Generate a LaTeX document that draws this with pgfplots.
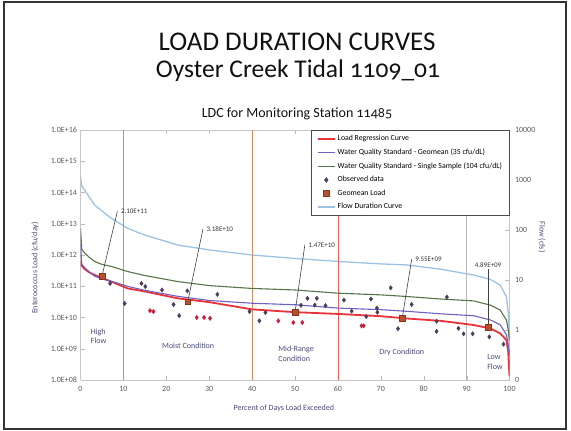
\documentclass[border=0pt]{standalone}
\usepackage{fontspec}
\setmainfont{Carlito}
\newfontfamily\titlefont[Numbers=OldStyle]{Carlito}
\usepackage{pgfplots}
\pgfplotsset{compat=1.18}
\definecolor{titlecol}{HTML}{111111}
\definecolor{axlab}{HTML}{4A4A7A}
\definecolor{ticklab}{HTML}{595959}
\definecolor{flowblue}{HTML}{9CC2E5}
\definecolor{ssgreen}{HTML}{557548}
\definecolor{gmpurple}{HTML}{7060C0}
\definecolor{regred}{HTML}{E8333A}
\definecolor{obs}{HTML}{4D3D5E}
\definecolor{redpts}{HTML}{C81E3C}
\definecolor{gmload}{HTML}{B8502E}
\definecolor{vbrown}{HTML}{D08A66}
\definecolor{vred}{HTML}{E06050}
\begin{document}
\begin{tikzpicture}[x=1pt,y=1pt]
\path[use as bounding box] (0,0) rectangle (571,431);
\draw[line width=1.5pt, black!80] (4,2) rectangle (566,429);
\node[font=\titlefont\fontsize{27}{29}\selectfont, text=titlecol] at (297,389) {LOAD DURATION CURVES};
\node[font=\titlefont\fontsize{25.5}{28}\selectfont, text=titlecol] at (298,360) {Oyster Creek Tidal 1109\_01};
\node[font=\titlefont\fontsize{14}{16}\selectfont, text=titlecol] at (297,317) {LDC for Monitoring Station 11485};

% secondary axis: flow
\begin{axis}[
  at={(80.5pt,51pt)}, anchor=south west, scale only axis,
  width=429pt, height=250pt,
  xmin=0, xmax=100, axis x line=none,
  axis y line*=right, ymode=log, ymin=0.1, ymax=10000,
  ytick={0.1,1,10,100,1000,10000},
  yticklabels={0,1,10,100,1000,10000},
  yminorticks=false,
  axis line style={gray!45}, tick style={gray!55},
  tick label style={font=\fontsize{8}{9}\selectfont, text=ticklab},
  yticklabel style={xshift=2pt},
  ylabel={Flow (cfs)},
  ylabel style={font=\fontsize{8}{9}\selectfont, text=axlab, at={(axis description cs:1.076,0.572)}, anchor=center, rotate=180},
]
\addplot[flowblue, line width=1.3pt] coordinates {
(0,1200) (0.3,750) (1,630) (2,460) (3.3,316) (5,240) (7.2,171) (11,108) (15,79) (22.7,50) (30,40) (40,31.6) (50,27) (60,23.5) (70,21) (76,20) (84,16.4) (91.6,12.6) (95.5,10.3) (97.8,7.9) (99.3,4.6) (99.7,2.2) (99.9,0.8) (100,0.1)};
\end{axis}

% primary axis: load
\begin{axis}[
  at={(80.5pt,51pt)}, anchor=south west, scale only axis,
  width=429pt, height=250pt,
  xmin=0, xmax=100, ymode=log, ymin=1e8, ymax=1e16,
  xtick={0,10,20,30,40,50,60,70,80,90,100},
  ytick={1e8,1e9,1e10,1e11,1e12,1e13,1e14,1e15,1e16},
  yticklabels={1.0E+08,1.0E+09,1.0E+10,1.0E+11,1.0E+12,1.0E+13,1.0E+14,1.0E+15,1.0E+16},
  yminorticks=false,
  axis y line*=left,
  /pgf/number format/assume math mode=true,
  axis line style={gray!45}, tick style={gray!55},
  tick label style={font=\fontsize{8}{9}\selectfont, text=ticklab},
  xticklabel style={yshift=-2.5pt},
  xlabel={Percent of Days Load Exceeded},
  ylabel={Enterococcus Load (cfu/day)},
  xlabel style={font=\fontsize{8}{9}\selectfont, text=axlab, at={(axis description cs:0.474,-0.112)}, anchor=center},
  ylabel style={font=\fontsize{8}{9}\selectfont, text=axlab, at={(axis description cs:-0.106,0.448)}, anchor=center},
  legend style={at={(1,1)}, anchor=north east, font=\fontsize{7.8}{9}\selectfont, draw=black!70, line width=0.8pt, fill=white, row sep=2.6pt, inner xsep=5pt, inner ysep=3pt},
  legend cell align=left,
]
% top axis line
\addplot[gray!45, forget plot] coordinates {(0,1e16) (100,1e16)};
% vertical condition lines
\addplot[vbrown, line width=0.7pt, forget plot] coordinates {(10,1e8) (10,1e16)};
\addplot[vbrown, line width=0.7pt, forget plot] coordinates {(40,1e8) (40,1e16)};
\addplot[vred, line width=0.7pt, forget plot] coordinates {(60,1e8) (60,1e16)};
\addplot[gray!55, line width=0.7pt, forget plot] coordinates {(90,1e8) (90,1e16)};

\addplot[regred, line width=1.8pt] coordinates {
(0,6.2e11) (0.3,4.5e11) (1,3.5e11) (2,2.8e11) (3.3,2.3e11) (5,1.85e11) (7.2,1.4e11) (11,8.5e10) (15,6.8e10) (22.7,4.1e10) (30,3.1e10) (40,1.82e10) (50,1.48e10) (60,1.3e10) (70,1.1e10) (76,9.3e9) (84,7.8e9) (91.6,5.75e9) (95.5,4.5e9) (97.8,3.1e9) (99.3,1.9e9) (99.7,8e8) (100,1.3e8)};
\addlegendentry{Load Regression Curve}
\addplot[gmpurple, line width=1.1pt] coordinates {
(0,2.4e12) (0.3,5.0e11) (1,3.9e11) (2,2.9e11) (3.3,2.1e11) (5,1.7e11) (7.2,1.45e11) (11,9.9e10) (15,7.4e10) (22.7,4.75e10) (30,3.5e10) (40,2.86e10) (50,2.56e10) (60,2.0e10) (70,1.78e10) (76,1.58e10) (84,1.31e10) (91.6,1.14e10) (95.5,8.4e9) (97.8,5.9e9) (99.3,2.8e9) (99.7,1.35e9) (100,6.4e8)};
\addlegendentry{Water Quality Standard - Geomean (35 cfu/dL)}
\addplot[ssgreen, line width=1.1pt] coordinates {
(0,7.1e12) (0.3,1.5e12) (1,1.15e12) (2,8.5e11) (3.3,6.2e11) (5,5.0e11) (7.2,4.3e11) (11,2.95e11) (15,2.2e11) (22.7,1.41e11) (30,1.05e11) (40,8.5e10) (50,7.6e10) (60,6.0e10) (70,5.3e10) (76,4.7e10) (84,3.9e10) (91.6,3.4e10) (95.5,2.5e10) (97.8,1.74e10) (99.3,8.3e9) (99.7,4e9) (100,1.9e9)};
\addlegendentry{Water Quality Standard - Single Sample (104 cfu/dL)}
\addplot[only marks, mark=diamond*, mark size=2.2pt, color=obs] coordinates {
(6.9,1.23e11) (14.2,1.23e11) (15.1,9.8e10) (19.0,7.6e10) (10.3,2.8e10) (21.7,2.6e10) (23.0,1.15e10) (24.9,7.1e10) (31.9,5.5e10) (39.4,1.55e10) (41.7,7.8e9) (43.1,1.45e10)
(51.4,2.45e10) (52.9,4.1e10) (55.1,4.1e10) (54.6,2.5e10) (57.1,2.4e10) (61.4,3.6e10) (63.2,1.6e10) (66.6,1.07e10) (67.7,3.9e10) (69.1,2.0e10) (69.2,1.47e10) (72.3,8.9e10) (77.2,2.6e10) (74.0,4.4e9)
(85.4,4.5e10) (83.0,7.6e9) (83.0,3.6e9) (88.1,4.5e9) (89.3,3.0e9) (91.4,3.0e9) (95.3,2.4e9) (98.6,1.4e9)};
\addlegendentry{Observed data}
\addplot[only marks, mark=square*, mark size=2.8pt, mark options={fill=gmload, draw=gmload!70!black}] coordinates {
(5,2.10e11) (25,3.18e10) (50,1.47e10) (75,9.55e9) (95,4.89e9)};
\addlegendentry{Geomean Load}
\addlegendimage{flowblue, line width=1.3pt}
\addlegendentry{Flow Duration Curve}
\addplot[only marks, mark=diamond*, mark size=2.2pt, color=redpts, forget plot] coordinates {
(16.2,1.66e10) (17.0,1.55e10) (27.1,1.0e10) (28.8,1.0e10) (30.2,9.4e9) (46.1,7.8e9) (49.6,6.9e9) (51.7,6.9e9) (65.5,5.4e9) (66.0,5.4e9)};

% callouts
\draw[black!75, line width=0.6pt] (axis cs:5,2.10e11) -- (axis cs:8.6,2.5e13) node[anchor=west, font=\fontsize{7}{8}\selectfont, text=black!80] {2.10E+11};
\draw[black!75, line width=0.6pt] (axis cs:25,3.18e10) -- (axis cs:28.55,6.8e12) node[anchor=west, font=\fontsize{7}{8}\selectfont, text=black!80] {3.18E+10};
\draw[black!75, line width=0.6pt] (axis cs:50,1.47e10) -- (axis cs:52.3,2.1e12) node[anchor=west, font=\fontsize{7}{8}\selectfont, text=black!80] {1.47E+10};
\draw[black!75, line width=0.6pt] (axis cs:75,9.55e9) -- (axis cs:77.2,7.4e11) node[anchor=west, font=\fontsize{7}{8}\selectfont, text=black!80] {9.55E+09};
\draw[black!75, line width=0.6pt] (axis cs:95,4.89e9) -- (axis cs:95,3.5e11) node[anchor=south, font=\fontsize{7}{8}\selectfont, text=black!80, inner sep=1.5pt] {4.89E+09};

% condition labels
\node[align=left, anchor=west, font=\fontsize{8}{9.5}\selectfont, text=axlab] at (axis cs:1.6,2.5e9) {High\\Flow};
\node[font=\fontsize{8}{9.5}\selectfont, text=axlab] at (axis cs:25.1,1.23e9) {Moist Condition};
\node[align=left, anchor=west, font=\fontsize{8}{9.5}\selectfont, text=axlab] at (axis cs:45.3,6.8e8) {Mid-Range\\Condition};
\node[font=\fontsize{8}{9.5}\selectfont, text=axlab] at (axis cs:74.9,7.5e8) {Dry Condition};
\node[align=left, anchor=west, font=\fontsize{8}{9.5}\selectfont, text=axlab] at (axis cs:94.0,3.8e8) {Low\\Flow};
\end{axis}
\end{tikzpicture}
\end{document}
